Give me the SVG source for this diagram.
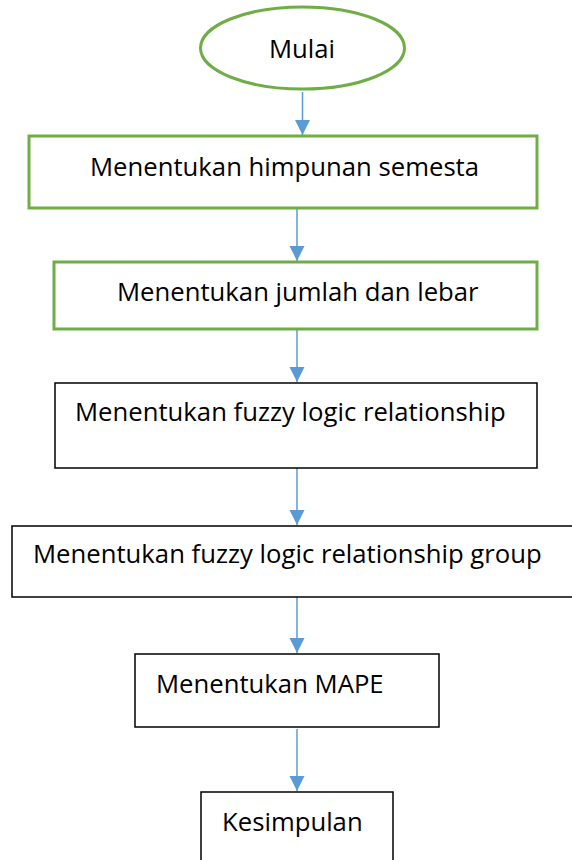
<svg xmlns="http://www.w3.org/2000/svg" width="572" height="860" viewBox="0 0 572 860">
<style>
  .g { fill: #ffffff; stroke: #70AD47; stroke-width: 3; }
  .b { fill: #ffffff; stroke: #000000; stroke-width: 1.5; }
  .t { font-family: "Open Sans", "Noto Sans", sans-serif; font-size: 25.7px; fill: #000000; }
  .c { stroke: #5B9BD5; stroke-width: 1.5; fill: none; marker-end: url(#ah); }
</style>
<defs>
  <marker id="ah" markerUnits="userSpaceOnUse" markerWidth="16" markerHeight="16" viewBox="0 0 16 16" refX="15" refY="8" orient="auto">
    <path d="M0,0.5 L15,8 L0,15.5 Z" fill="#5B9BD5"/>
  </marker>
</defs>
<rect width="572" height="860" fill="#ffffff"/>
<g id="connectors">
  <line class="c" x1="302.5" y1="92" x2="302.5" y2="135"/>
  <line class="c" x1="297" y1="208" x2="297" y2="261"/>
  <line class="c" x1="297" y1="330" x2="297" y2="382"/>
  <line class="c" x1="297" y1="468" x2="297" y2="525"/>
  <line class="c" x1="297" y1="597" x2="297" y2="653"/>
  <line class="c" x1="297" y1="729" x2="297" y2="791"/>
</g>
<g id="mulai">
  <ellipse class="g" cx="302.5" cy="48" rx="102" ry="41"/>
  <text class="t" x="269" y="58">Mulai</text>
</g>
<g id="himpunan">
  <rect class="g" x="29" y="136" width="508" height="72"/>
  <text class="t" x="90" y="176">Menentukan himpunan semesta</text>
</g>
<g id="jumlah">
  <rect class="g" x="54" y="262" width="483" height="67"/>
  <text class="t" x="117" y="301">Menentukan jumlah dan lebar</text>
</g>
<g id="flr">
  <rect class="b" x="55" y="383" width="482" height="85"/>
  <text class="t" x="75" y="421">Menentukan fuzzy logic relationship</text>
</g>
<g id="flrg">
  <rect class="b" x="12" y="526" width="580" height="71"/>
  <text class="t" x="33" y="563">Menentukan fuzzy logic relationship group</text>
</g>
<g id="mape">
  <rect class="b" x="135" y="654" width="304" height="73"/>
  <text class="t" x="156" y="693">Menentukan MAPE</text>
</g>
<g id="kesimpulan">
  <rect class="b" x="201" y="792" width="192" height="90"/>
  <text class="t" x="222" y="831">Kesimpulan</text>
</g>
</svg>
